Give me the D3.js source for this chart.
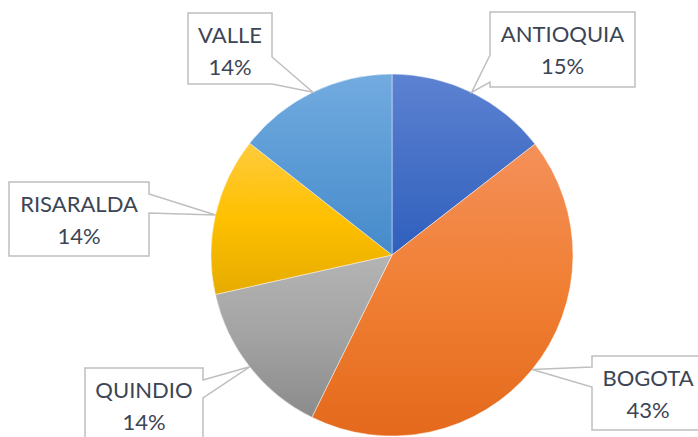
<!DOCTYPE html>
<html>
<head>
<meta charset="utf-8">
<script src="https://cdn.jsdelivr.net/npm/d3@7"></script>
<style>
  html, body { margin: 0; padding: 0; background: #fff; }
  svg { display: block; }
</style>
</head>
<body>
<div id="chart"></div>
<script>
// chart data
const regions = ["ANTIOQUIA", "BOGOTA", "QUINDIO", "RISARALDA", "VALLE"];
const shares = [14.5, 42.8, 14.2, 14.1, 14.4];

// gradient colours per slice: [top, middle, bottom]
const sliceColors = [
    ["#5d82d2", "#4570c6", "#2f5fbd"],
    ["#f4905a", "#f07f33", "#e4691c"],
    ["#b4b4b4", "#a3a3a3", "#8b8b8b"],
    ["#ffcb3d", "#ffc000", "#e6ab00"],
    ["#72abe0", "#5b9bd5", "#468acb"]
];

// callout boxes: box x/y/w/h, wedge side and wedge base (relative to box top)
const callouts = [
    { x: 490, y: 12, w: 145, h: 75, side: "left", b1: 43, b2: 70 },
    { x: 592, y: 356, w: 112, h: 74, side: "left", b1: 11, b2: 31 },
    { x: 85, y: 368, w: 118, h: 80, side: "right", b1: 12, b2: 30 },
    { x: 9, y: 182, w: 140, h: 74, side: "right", b1: 12, b2: 31 },
    { x: 188, y: 13, w: 84, h: 71, side: "right", b1: 44, b2: 71 }
];

const width = 698, height = 437;
const cx = 392, cy = 255, radius = 181;

const svg = d3.select("#chart")
    .append("svg")
    .attr("width", width)
    .attr("height", height);

const defs = svg.append("defs");
sliceColors.forEach((c, i) => {
    const g = defs.append("linearGradient")
        .attr("id", "grad" + i)
        .attr("x1", 0).attr("y1", 0)
        .attr("x2", 0).attr("y2", 1);
    g.append("stop").attr("offset", "0%").attr("stop-color", c[0]);
    g.append("stop").attr("offset", "50%").attr("stop-color", c[1]);
    g.append("stop").attr("offset", "100%").attr("stop-color", c[2]);
});

const pie = d3.pie().sort(null).value(d => d)
    .startAngle(0).endAngle(2 * Math.PI);
const arcs = pie(shares);

const arc = d3.arc().innerRadius(0).outerRadius(radius);
// zero-width ring, its centroid is the point on the rim at mid angle
const rim = d3.arc().innerRadius(radius).outerRadius(radius);

const g = svg.append("g")
    .attr("transform", `translate(${cx}, ${cy})`);

g.selectAll("path.slice")
    .data(arcs)
    .join("path")
    .attr("class", "slice")
    .attr("d", arc)
    .attr("fill", (d, i) => `url(#grad${i})`)
    .attr("stroke", "rgba(255,255,255,0.6)")
    .attr("stroke-width", 0.75);

// callout labels
const fmt = v => Math.round(v) + "%";

const labels = svg.append("g");
arcs.forEach((d, i) => {
    const c = callouts[i];
    const tip = rim.centroid(d);
    const tx = cx + tip[0], ty = cy + tip[1];
    let pts;
    if (c.side === "left") {
        pts = [
            [c.x, c.y], [c.x + c.w, c.y], [c.x + c.w, c.y + c.h], [c.x, c.y + c.h],
            [c.x, c.y + c.b2], [tx, ty], [c.x, c.y + c.b1]
        ];
    } else {
        pts = [
            [c.x, c.y], [c.x + c.w, c.y], [c.x + c.w, c.y + c.b1], [tx, ty],
            [c.x + c.w, c.y + c.b2], [c.x + c.w, c.y + c.h], [c.x, c.y + c.h]
        ];
    }
    labels.append("path")
        .attr("d", d3.line()(pts) + "Z")
        .attr("fill", "#fff")
        .attr("stroke", "#bfbfbf")
        .attr("stroke-width", 1.5);

    const t = labels.append("text")
        .attr("text-anchor", "middle")
        .style("font-family", "Lato, 'Open Sans', sans-serif")
        .style("font-size", "22px")
        .style("fill", "#3c4555");
    t.append("tspan")
        .attr("x", c.x + c.w / 2)
        .attr("y", c.y + 30)
        .text(regions[i]);
    t.append("tspan")
        .attr("x", c.x + c.w / 2)
        .attr("y", c.y + 62)
        .text(fmt(d.data));
});
</script>
</body>
</html>
